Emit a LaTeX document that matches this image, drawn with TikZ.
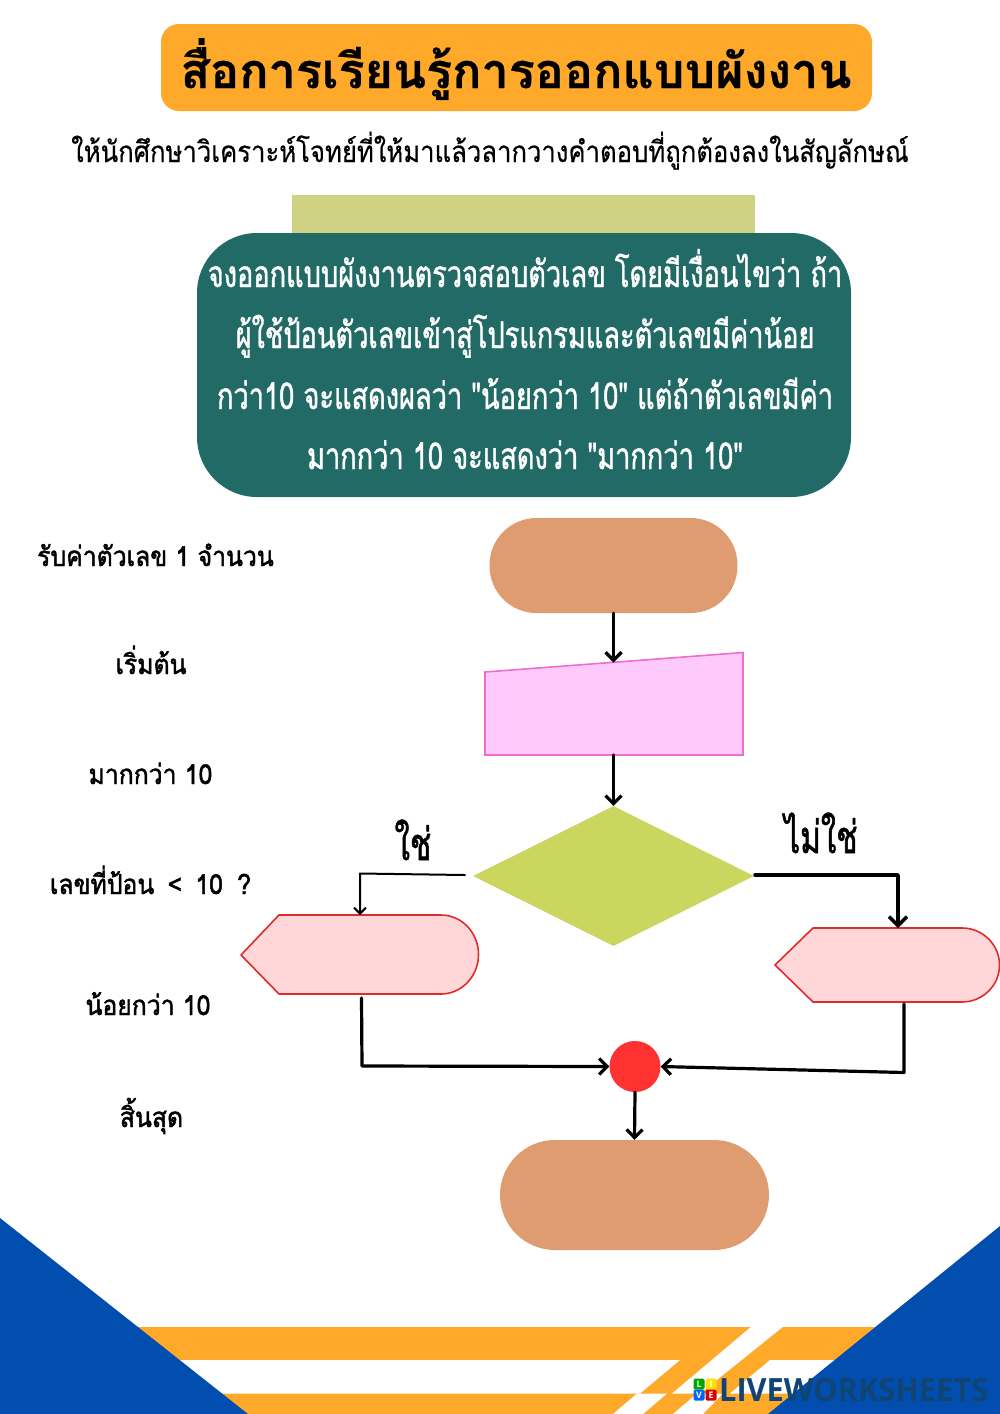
\documentclass[tikz,border=0pt]{standalone}
\usepackage{fontspec}
\usetikzlibrary{shapes.geometric,arrows.meta}
\newfontfamily\titlefont[Script=Thai,FakeBold=0.5]{Loma Bold}
\newfontfamily\subfont[Script=Thai,FakeStretch=0.87,FakeBold=0.4]{Loma}
\newfontfamily\bodyfont[Script=Thai,FakeStretch=0.735,FakeBold=1.1]{Loma}
\newfontfamily\labelfont[Script=Thai,FakeStretch=0.9,FakeBold=1.7]{Loma}
\newfontfamily\yesfont[Script=Thai,FakeStretch=0.7,FakeBold=1.2]{Loma}
\newfontfamily\logofont[FakeStretch=0.96]{Open Sans}
\definecolor{orangeA}{HTML}{FFA92B}
\definecolor{blueA}{HTML}{024EAE}
\definecolor{greenbox}{HTML}{216A66}
\definecolor{khaki}{HTML}{CFD283}
\definecolor{tan}{HTML}{DF9C70}
\definecolor{pinkfill}{HTML}{FFCAFB}
\definecolor{pinkline}{HTML}{F06EC8}
\definecolor{olive}{HTML}{CBD65F}
\definecolor{rosefill}{HTML}{FFD7D8}
\definecolor{roseline}{HTML}{E02B2B}
\definecolor{dot}{HTML}{FF3131}
\definecolor{logoblue}{HTML}{0F4474}
\tikzset{
  pill/.style={fill=tan,draw=none,inner sep=0pt,rectangle},
  bodyline/.style={anchor=base,text=white,inner sep=0pt,font=\bodyfont\fontsize{37}{37}\selectfont},
  leftlabel/.style={anchor=base,text=black,inner sep=0pt,font=\labelfont\fontsize{27.5}{27.5}\selectfont},
  yesno/.style={anchor=base,text=black,inner sep=0pt,font=\yesfont\fontsize{45}{45}\selectfont},
  flow/.style={draw=black,line cap=round,line join=round},
  barb/.style={-{Straight Barb[length=#1,width=2*#1]}},
  display/.style={fill=rosefill,draw=roseline,line width=1.6pt,line join=round},
  logosq/.style={inner sep=0pt,minimum size=11pt,rounded corners=1.5pt,text=white,font=\logofont\bfseries\fontsize{9}{9}\selectfont},
}
\begin{document}
\begin{tikzpicture}[x=1pt,y=-1pt]
\useasboundingbox (0,0) rectangle (1000,1414);
\fill[white] (0,0) rectangle (1000,1414);
% bottom decoration
\fill[orangeA] (100,1327) rectangle (1000,1414);
\fill[white] (100,1360) -- (680,1360) -- (640,1393.5) -- (100,1393.5) -- cycle;
\fill[white] (752,1326) -- (784,1326) -- (700,1393.5) -- (672,1393.5) -- cycle;
\fill[white] (770,1360) -- (1000,1360) -- (1000,1393.5) -- (730,1393.5) -- cycle;
\fill[white] (637,1393.5) -- (667,1393.5) -- (643,1414) -- (613,1414) -- cycle;
\fill[white] (697,1393.5) -- (723,1393.5) -- (703,1414) -- (673,1414) -- cycle;
\fill[blueA] (0,1218) -- (248,1414) -- (0,1414) -- cycle;
\fill[blueA] (1000,1226) -- (768,1414) -- (1000,1414) -- cycle;
% title
\node[fill=orangeA,rounded corners=18pt,minimum width=711pt,minimum height=87pt,inner sep=0pt] (titlebox) at (516.5,67.5) {};
\node[anchor=base,inner sep=0pt,font=\titlefont\fontsize{48.5}{48.5}\selectfont] (titletext) at (516,88) {สื่อการเรียนรู้การออกแบบผังงาน};
\node[anchor=base,inner sep=0pt,font=\subfont\fontsize{29.5}{29.5}\selectfont] (subtitle) at (490,162) {ให้นักศึกษาวิเคราะห์โจทย์ที่ให้มาแล้วลากวางคำตอบที่ถูกต้องลงในสัญลักษณ์};
% problem box
\node[fill=khaki,minimum width=463pt,minimum height=38pt,inner sep=0pt] (tab) at (523.5,214) {};
\node[fill=greenbox,rounded corners=60pt,minimum width=654pt,minimum height=264pt,inner sep=0pt] (problem) at (524,365) {};
\node[bodyline] (p1) at (525,287) {จงออกแบบผังงานตรวจสอบตัวเลข โดยมีเงื่อนไขว่า ถ้า};
\node[bodyline] (p2) at (525,348) {ผู้ใช้ป้อนตัวเลขเข้าสู่โปรแกรมและตัวเลขมีค่าน้อย};
\node[bodyline] (p3) at (525,409) {กว่า10 จะแสดงผลว่า "น้อยกว่า 10" แต่ถ้าตัวเลขมีค่า};
\node[bodyline] (p4) at (525,469) {มากกว่า 10 จะแสดงว่า "มากกว่า 10"};
% left labels
\node[leftlabel] (l1) at (155.5,566) {รับค่าตัวเลข 1 จำนวน};
\node[leftlabel] (l2) at (151,674) {เริ่มต้น};
\node[leftlabel] (l3) at (150.5,784) {มากกว่า 10};
\node[leftlabel] (l4) at (150.5,894) {เลขที่ป้อน\hspace{5pt} < \hspace{5pt}10\hspace{6pt} ?};
\node[leftlabel] (l5) at (148,1015) {น้อยกว่า 10};
\node[leftlabel] (l6) at (151.5,1127) {สิ้นสุด};
% flowchart shapes
\node[pill,rounded corners=47pt,minimum width=248pt,minimum height=95pt] (start) at (613.5,565.5) {};
\draw[fill=pinkfill,draw=pinkline,line width=1.6pt] (485,672) -- (743,652.5) -- (743,755) -- (485,755) -- cycle;
\coordinate (inTop) at (613.5,662.5);
\coordinate (inBot) at (613.5,755);
\node[diamond,fill=olive,inner sep=0pt,minimum width=281pt,minimum height=140pt] (dec) at (613.5,876) {};
\draw[display] (241,955) -- (279,915) -- (441,915) arc[start angle=-90,end angle=90,x radius=37.5,y radius=39.5] -- (279,994) -- cycle;
\coordinate (leftTop) at (360,915);
\coordinate (leftBot) at (361.5,998);
\draw[display] (775,965) -- (813,928) -- (962,928) arc[start angle=-90,end angle=90,x radius=37.5,y radius=37] -- (813,1002) -- cycle;
\coordinate (rightTop) at (898,928);
\coordinate (rightBot) at (904,1004);
\node[circle,fill=dot,inner sep=0pt,minimum size=51pt] (join) at (635,1066.5) {};
\node[pill,rounded corners=55pt,minimum width=269pt,minimum height=110pt] (stop) at (634.5,1195) {};
\coordinate (decL) at (465,875);
\coordinate (decR) at (755,875);
\coordinate (cornerL) at (360,873.5);
\coordinate (cornerR) at (898,875);
\coordinate (cornerLB) at (362,1066);
\coordinate (cornerRB) at (904,1072.5);
% connectors
\draw[flow,line width=3.2pt,barb=8pt] (start.south) -- (inTop);
\draw[flow,line width=3.2pt,barb=8pt] (inBot) -- (dec.north);
\draw[flow,line width=2pt,barb=6pt] (decL) -- (cornerL) -- (leftTop);
\draw[flow,line width=3.5pt,barb=9pt] (decR) -- (cornerR) -- (rightTop);
\draw[flow,line width=3.2pt,barb=8pt] (leftBot) -- (cornerLB) -- (join.west);
\draw[flow,line width=3.2pt,barb=8pt] (rightBot) -- (cornerRB) -- (join.east);
\draw[flow,line width=3.2pt,barb=8pt] (join.south) -- (stop.north);
% branch labels
\node[yesno] (yes) at (413,860) {ใช่};
\node[yesno] (no) at (821,853) {ไม่ใช่};
% logo
\node[logosq,fill=green!65!black] (lgL) at (699,1384) {L};
\node[logosq,fill=yellow!85!orange] (lgI) at (711,1384) {I};
\node[logosq,fill=blue!60!cyan] (lgV) at (699,1395) {V};
\node[logosq,fill=red!85!black] (lgE) at (711,1395) {E};
\node[anchor=base west,inner sep=0pt,text=logoblue,font=\logofont\bfseries\fontsize{32}{32}\selectfont] (lgT) at (719,1401) {LIVEWORKSHEETS};
\end{tikzpicture}
\end{document}
